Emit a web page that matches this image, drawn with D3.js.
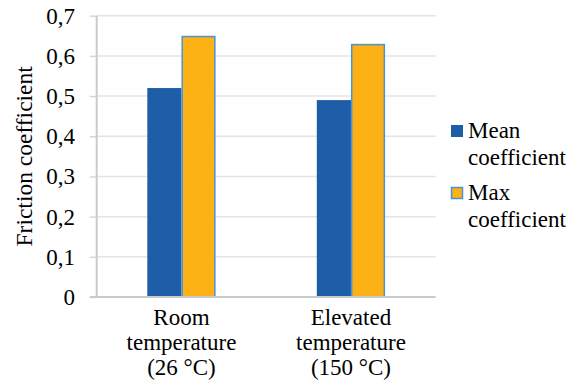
<!DOCTYPE html>
<html><head><meta charset="utf-8"><script src="https://cdn.jsdelivr.net/npm/d3@7"></script></head>
<body style="margin:0">
<svg id="s" width="582" height="385"></svg>
<script>
// Friction coefficient by test temperature
const categories = [["Room", "temperature", "(26 °C)"], ["Elevated", "temperature", "(150 °C)"]];
const categoryKeys = ["room", "elevated"];
const seriesNames = [["Mean", "coefficient"], ["Max", "coefficient"]];
const seriesKeys = ["mean", "max"];
const meanValues = [0.52, 0.49];
const maxValues = [0.65, 0.63];
const yTickValues = [0, 0.1, 0.2, 0.3, 0.4, 0.5, 0.6, 0.7];
const yTickLabels = ["0", "0,1", "0,2", "0,3", "0,4", "0,5", "0,6", "0,7"];
const yTitle = "Friction coefficient";

const FONT = '"Liberation Serif"';
const seriesColors = { mean: "#1e5ea9", max: "#fcb115" };
const seriesStroke = { mean: "none", max: "#4a93d6" };

const svg = d3.select("#s");
const plot = { left: 96.7, right: 435.7, top: 15.7, bottom: 297 };

const x = d3.scaleBand().domain(categoryKeys).range([plot.left, plot.right]).padding(0);
const groupWidth = x.bandwidth() * 0.403;
const xs = d3.scaleBand().domain(seriesKeys).range([0, groupWidth]).padding(0);
const y = d3.scaleLinear().domain([0, 0.7]).range([plot.bottom, plot.top]);

// horizontal gridlines (the baseline is drawn with the axes)
svg.append("g")
  .selectAll("line")
  .data(yTickValues.filter(d => d > 0))
  .join("line")
  .attr("x1", plot.left).attr("x2", plot.right)
  .attr("y1", d => y(d)).attr("y2", d => y(d))
  .attr("stroke", "#e4e4e4").attr("stroke-width", 1.5);

// bars
const rows = categoryKeys.map((k, i) => ({ key: k, mean: meanValues[i], max: maxValues[i] }));
svg.append("g")
  .selectAll("g")
  .data(rows)
  .join("g")
  .attr("transform", d => `translate(${x(d.key) + (x.bandwidth() - groupWidth) / 2},0)`)
  .selectAll("rect")
  .data(d => seriesKeys.map(s => ({ s, v: d[s] })))
  .join("rect")
  .attr("x", d => xs(d.s) + (d.s === "max" ? 0.75 : 0))
  .attr("width", d => xs.bandwidth() - (d.s === "max" ? 1.5 : 0))
  .attr("y", d => y(d.v) + (d.s === "max" ? 0.75 : 0))
  .attr("height", d => y(0) - y(d.v) - (d.s === "max" ? 0.75 : 0))
  .attr("fill", d => seriesColors[d.s])
  .attr("stroke", d => seriesStroke[d.s])
  .attr("stroke-width", 1.5);

// y axis: ticks extend left of the axis line
const yAxisG = svg.append("g")
  .attr("transform", `translate(${plot.left},0)`)
  .call(d3.axisLeft(y)
    .tickValues(yTickValues)
    .tickFormat((d, i) => yTickLabels[i])
    .tickSize(7)
    .tickPadding(14));
yAxisG.select(".domain").remove();
yAxisG.selectAll(".tick line").attr("stroke", "#d6d6d6").attr("stroke-width", 1.5);
yAxisG.selectAll(".tick text").remove();

// tick labels as plain text elements
svg.append("g")
  .selectAll("text")
  .data(yTickValues)
  .join("text")
  .attr("x", 75)
  .attr("y", d => y(d) + 8)
  .attr("text-anchor", "end")
  .style("font-family", FONT)
  .style("font-size", "23px")
  .text((d, i) => yTickLabels[i]);

// axis lines
svg.append("line")
  .attr("x1", plot.left).attr("x2", plot.left)
  .attr("y1", plot.top).attr("y2", plot.bottom)
  .attr("stroke", "#cbcbcb").attr("stroke-width", 2);
svg.append("line")
  .attr("x1", plot.left - 7).attr("x2", plot.right)
  .attr("y1", plot.bottom).attr("y2", plot.bottom)
  .attr("stroke", "#cbcbcb").attr("stroke-width", 2);

// category labels, one text per line
categoryKeys.forEach((k, i) => {
  svg.append("g")
    .selectAll("text")
    .data(categories[i])
    .join("text")
    .attr("x", x(k) + x.bandwidth() / 2)
    .attr("y", (d, j) => 325 + j * 25)
    .attr("text-anchor", "middle")
    .style("font-family", FONT)
    .style("font-size", "23px")
    .text(d => d);
});

// y axis title
svg.append("text")
  .attr("transform", `translate(32,${(plot.top + plot.bottom) / 2}) rotate(-90)`)
  .attr("text-anchor", "middle")
  .style("font-family", FONT)
  .style("font-size", "23.5px")
  .text(yTitle);

// legend
seriesKeys.forEach((s, i) => {
  const dy = i * 62;
  svg.append("rect")
    .attr("x", s === "max" ? 451.5 : 451)
    .attr("y", (s === "max" ? 125.5 : 125) + dy)
    .attr("width", s === "max" ? 11 : 12)
    .attr("height", s === "max" ? 11 : 12)
    .attr("fill", seriesColors[s])
    .attr("stroke", seriesStroke[s])
    .attr("stroke-width", 1.5);
  svg.append("g")
    .selectAll("text")
    .data(seriesNames[i])
    .join("text")
    .attr("x", 468)
    .attr("y", (d, j) => 137.5 + dy + j * 27.6)
    .style("font-family", FONT)
    .style("font-size", "23px")
    .text(d => d);
});
</script>
</body>
</html>
